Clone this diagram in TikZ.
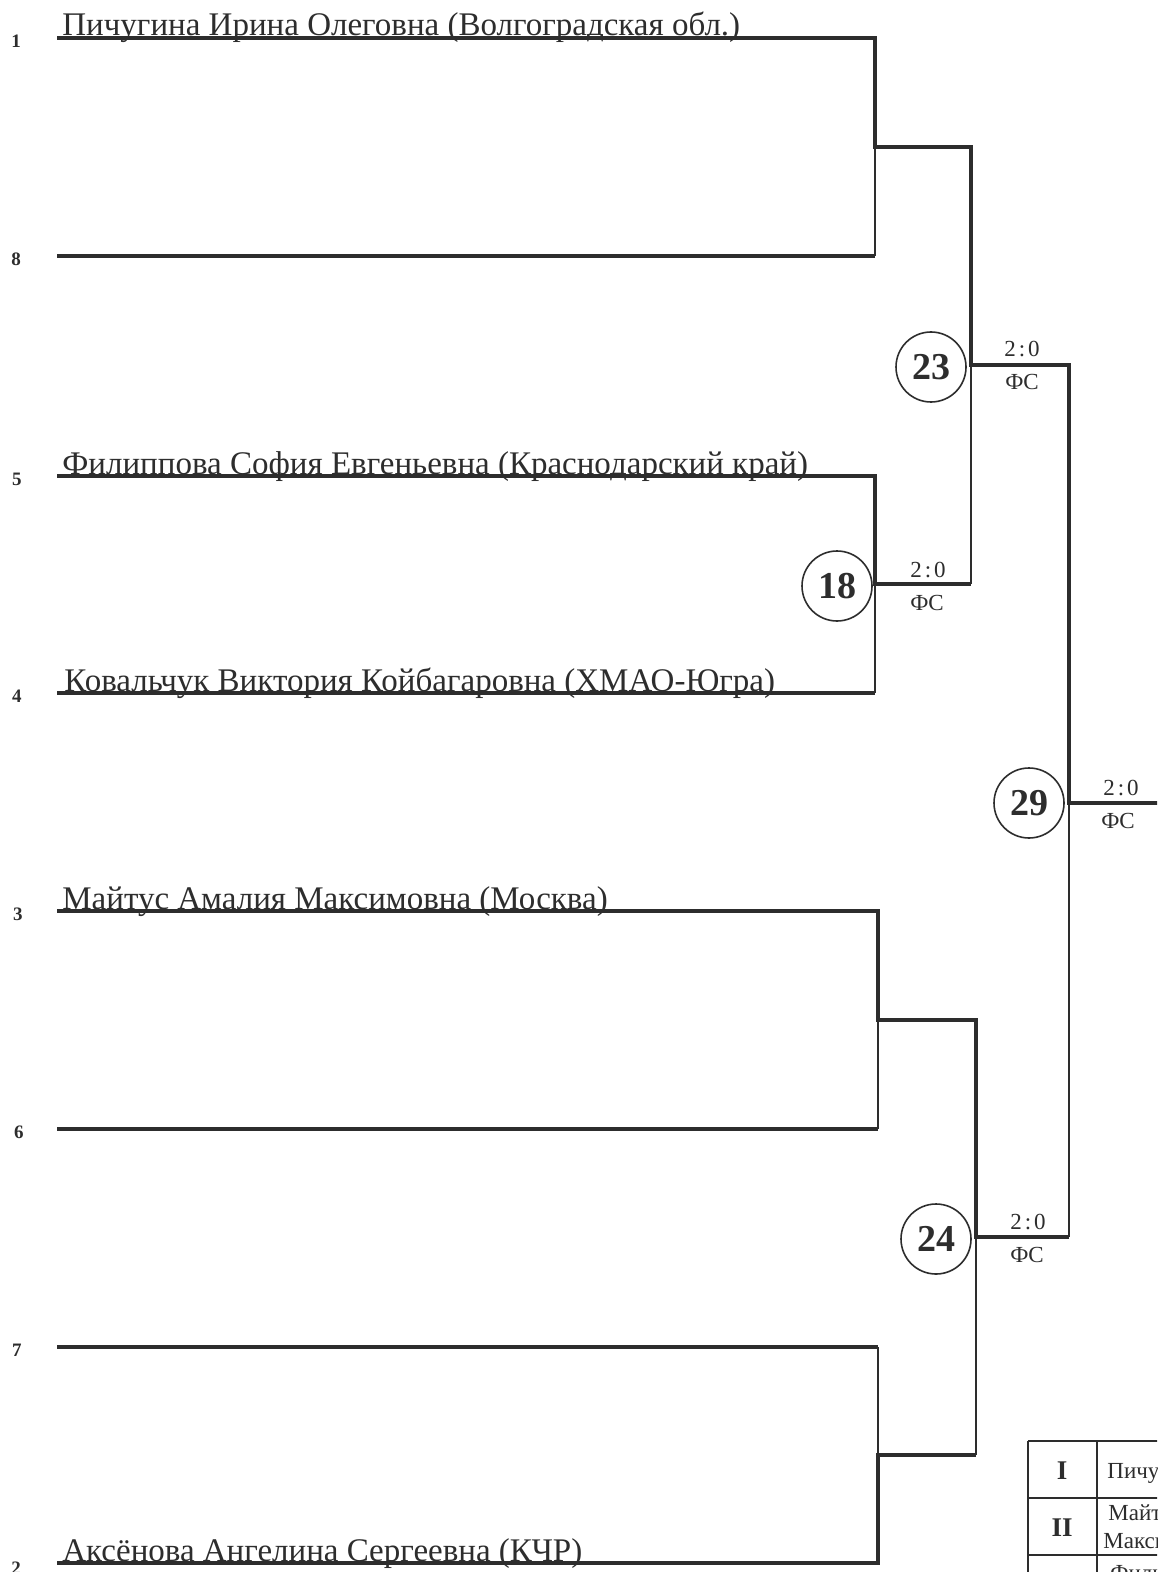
\documentclass[tikz,border=0pt]{standalone}
\usepackage{fontspec}
\setmainfont{Liberation Serif}
\definecolor{ink}{RGB}{45,45,45}
\begin{document}
\begin{tikzpicture}[x=0.5pt,y=-0.5pt,
  thk/.style={draw=ink,line width=1.9pt,line join=miter},
  thn/.style={draw=ink,line width=0.9pt},
  tbl/.style={draw=ink,line width=0.8pt},
  pname/.style={anchor=base west,inner sep=0pt,text=ink,font=\fontsize{16.5}{18}\selectfont},
  seedno/.style={inner sep=0pt,text=ink,font=\bfseries\fontsize{9.5}{10}\selectfont},
  bout/.style={circle,draw=ink,line width=0.8pt,minimum size=35pt,inner sep=0pt,text=ink,font=\bfseries\fontsize{19}{20}\selectfont},
  score/.style={anchor=base,inner sep=0pt,text=ink,font=\fontsize{11.5}{13}\selectfont},
  tnum/.style={inner sep=0pt,text=ink,font=\bfseries\fontsize{13.5}{14}\selectfont},
  ttext/.style={anchor=base west,inner sep=0pt,text=ink,font=\fontsize{11.5}{13}\selectfont}]
\useasboundingbox (0,0) rectangle (1157,1572);
\clip (0,0) rectangle (1157,1572);
\fill[white] (0,0) rectangle (1157,1572);

% name lines
\coordinate (a1) at (57,38);   \coordinate (b1) at (875,38);
\coordinate (a8) at (57,256);  \coordinate (b8) at (875,256);
\coordinate (a5) at (57,476);  \coordinate (b5) at (875,476);
\coordinate (a4) at (57,693);  \coordinate (b4) at (875,693);
\coordinate (a3) at (57,911);  \coordinate (b3) at (878,911);
\coordinate (a6) at (57,1129); \coordinate (b6) at (878,1129);
\coordinate (a7) at (57,1347); \coordinate (b7) at (878,1347);
\coordinate (a2) at (57,1563); \coordinate (b2) at (878,1563);
% round 1 junctions
\coordinate (q1) at (875,147);
\coordinate (q2) at (875,584);
\coordinate (q3) at (878,1020);
\coordinate (q4) at (878,1455);
% round 2
\coordinate (p1t) at (971,147);
\coordinate (p1m) at (971,365);
\coordinate (p1b) at (971,584);
\coordinate (p2t) at (976,1020);
\coordinate (p2m) at (976,1237);
\coordinate (p2b) at (976,1455);
% final
\coordinate (ft) at (1069,365);
\coordinate (fm) at (1069,803);
\coordinate (fb) at (1069,1237);
\coordinate (fe) at (1160,803);

\draw[thk] (a1) -- (b1) -- (q1) -- (p1t) -- (p1m) -- (ft) -- (fm) -- (fe);
\draw[thk] (a8) -- (b8);
\draw[thn] (q1) -- (b8);
\draw[thk] (a5) -- (b5) -- (q2) -- (p1b);
\draw[thn] (p1b) -- (p1m);
\draw[thk] (a4) -- (b4);
\draw[thn] (b4) -- (q2);
\draw[thk] (a3) -- (b3) -- (q3) -- (p2t) -- (p2m) -- (fb);
\draw[thn] (fb) -- (fm);
\draw[thk] (a6) -- (b6);
\draw[thn] (b6) -- (q3);
\draw[thk] (a7) -- (b7);
\draw[thn] (b7) -- (q4);
\draw[thk] (a2) -- (b2) -- (q4) -- (p2b);
\draw[thn] (p2b) -- (p2m);

% names
\node[pname] (n1) at (62,36) {Пичугина Ирина Олеговна (Волгоградская обл.)};
\node[pname] (n5) at (62,474) {Филиппова София Евгеньевна (Краснодарский край)};
\node[pname] (n4) at (64,691) {Ковальчук Виктория Койбагаровна (ХМАО-Югра)};
\node[pname] (n3) at (62,909) {Майтус Амалия Максимовна (Москва)};
\node[pname] (n2) at (62,1561) {Аксёнова Ангелина Сергеевна (КЧР)};

% seed numbers
\node[seedno] (s1) at (16,41) {1};
\node[seedno] (s8) at (16,259) {8};
\node[seedno] (s5) at (17,479) {5};
\node[seedno] (s4) at (17,696) {4};
\node[seedno] (s3) at (18,914) {3};
\node[seedno] (s6) at (19,1132) {6};
\node[seedno] (s7) at (17,1350) {7};
\node[seedno] (s2) at (16,1568) {2};

% bout circles
\node[bout] (c23) at (931,367) {23};
\node[bout] (c18) at (837,586) {18};
\node[bout] (c29) at (1029,803) {29};
\node[bout] (c24) at (936,1239) {24};

% scores
\node[score] (t23a) at (1022,357) {2{\kern1.5pt}:{\kern1.5pt}0};
\node[score] (t23b) at (1022,390) {ФС};
\node[score] (t18a) at (928,577) {2{\kern1.5pt}:{\kern1.5pt}0};
\node[score] (t18b) at (927,610) {ФС};
\node[score] (t29a) at (1121,795) {2{\kern1.5pt}:{\kern1.5pt}0};
\node[score] (t29b) at (1118,828) {ФС};
\node[score] (t24a) at (1028,1229) {2{\kern1.5pt}:{\kern1.5pt}0};
\node[score] (t24b) at (1027,1262) {ФС};

% results table
\draw[tbl] (1028,1441) -- (1170,1441);
\draw[tbl] (1028,1498) -- (1170,1498);
\draw[tbl] (1028,1555) -- (1170,1555);
\draw[tbl] (1028,1441) -- (1028,1580);
\draw[tbl] (1097,1441) -- (1097,1580);
\node[tnum] (r1) at (1062,1471) {I};
\node[tnum] (r2) at (1062,1528) {II};
\node[ttext] (w1) at (1107,1478) {Пичугина Ирина Олеговна};
\node[ttext] (w2a) at (1108,1520) {Майтус Амалия};
\node[ttext] (w2b) at (1103,1548) {Максимовна};
\node[ttext] (w3) at (1110,1580) {Филиппова София};
\end{tikzpicture}
\end{document}
